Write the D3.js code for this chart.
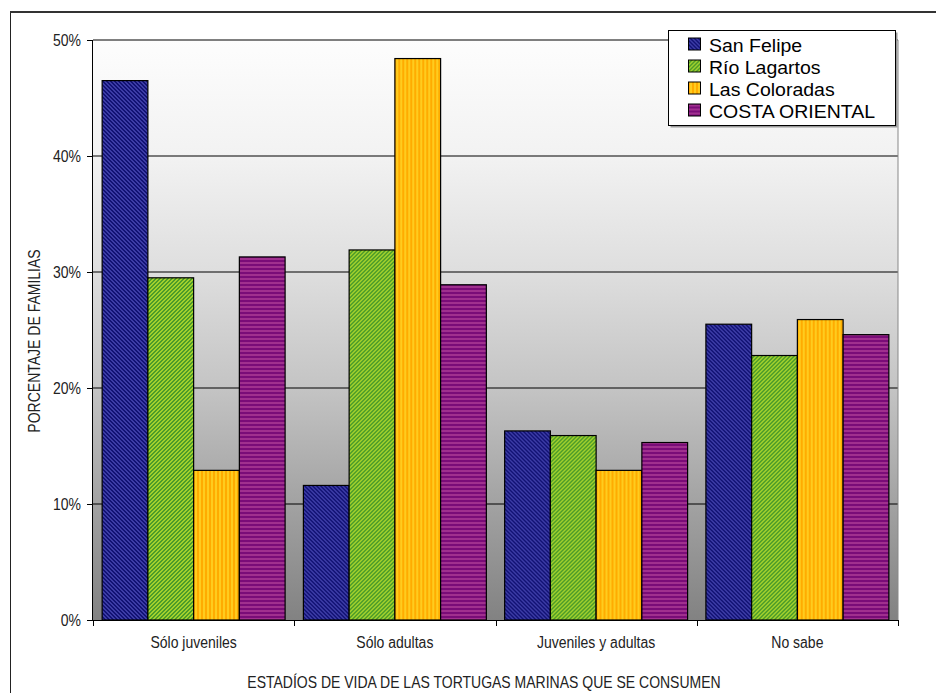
<!DOCTYPE html>
<html>
<head>
<meta charset="utf-8">
<script src="https://cdn.jsdelivr.net/npm/d3@7"></script>
<style>
  html, body { margin: 0; padding: 0; background: #fff; }
  svg { display: block; font-family: "Liberation Sans", Arial, sans-serif; }
</style>
</head>
<body>
<svg id="chart" width="936" height="693"></svg>
<script>
// Life stages of sea turtles consumed, share of families by locality
const categories = ["Sólo juveniles", "Sólo adultas", "Juveniles y adultas", "No sabe"];
const seriesNames = ["San Felipe", "Río Lagartos", "Las Coloradas", "COSTA ORIENTAL"];
const sanFelipe     = [46.5, 11.6, 16.3, 25.5];
const rioLagartos   = [29.5, 31.9, 15.9, 22.8];
const lasColoradas  = [12.9, 48.4, 12.9, 25.9];
const costaOriental = [31.3, 28.9, 15.3, 24.6];
const yTicks = [0, 10, 20, 30, 40, 50];
const yTitle = "PORCENTAJE DE FAMILIAS";
const xTitle = "ESTADÍOS DE VIDA DE LAS TORTUGAS MARINAS QUE SE CONSUMEN";

const seriesValues = [sanFelipe, rioLagartos, lasColoradas, costaOriental];

// pixel hatch fills: [dark, light, rule(x,y) -> true for dark pixel]
const hatches = [
  { id: "h0", dark: "#121274", light: "#3c3ca6", on: (x, y) => ((x - y + 8) % 4) < 2 },
  { id: "h1", dark: "#4c9c2a", light: "#a2d02c", on: (x, y) => ((x + y) % 4) < 2 },
  { id: "h2", dark: "#ffac00", light: "#ffcc1e", on: (x, y) => (x % 4) < 2 },
  { id: "h3", dark: "#7a0c78", light: "#a0308e", on: (x, y) => (y % 4) < 2 }
];

// tall, narrow lettering: draw at a larger size, then squeeze to the base width
function tallText(sel, baseSize, stretch) {
  sel.attr("font-size", baseSize * stretch).each(function () {
    const len = this.getComputedTextLength();
    if (len > 0) {
      d3.select(this).attr("textLength", len / stretch).attr("lengthAdjust", "spacingAndGlyphs");
    }
  });
}

const svg = d3.select("#chart");
const defs = svg.append("defs");

hatches.forEach(h => {
  const p = defs.append("pattern")
    .attr("id", h.id).attr("patternUnits", "userSpaceOnUse")
    .attr("width", 4).attr("height", 4);
  p.append("rect").attr("width", 4).attr("height", 4).attr("fill", h.light);
  for (let y = 0; y < 4; y++) {
    for (let x = 0; x < 4; x++) {
      if (h.on(x, y)) {
        p.append("rect").attr("x", x).attr("y", y).attr("width", 1).attr("height", 1)
          .attr("fill", h.dark).attr("shape-rendering", "crispEdges");
      }
    }
  }
});

const bg = defs.append("linearGradient").attr("id", "plotBg")
  .attr("x1", 0).attr("y1", 0).attr("x2", 0).attr("y2", 1);
[[0, "#fdfdfd"], [0.2, "#f2f2f2"], [0.4, "#dedede"], [0.6, "#c4c4c4"], [0.8, "#a2a2a2"], [1, "#828282"]]
  .forEach(([o, c]) => bg.append("stop").attr("offset", o).attr("stop-color", c));

// outer frame
svg.append("rect").attr("x", 10.5).attr("y", 12).attr("width", 960).attr("height", 720)
  .attr("fill", "none").attr("stroke", "#222").attr("stroke-width", 1);
svg.append("line").attr("x1", 10).attr("x2", 936).attr("y1", 12).attr("y2", 12)
  .attr("stroke", "#333").attr("stroke-width", 2);

const plot = { left: 93, right: 898, top: 40, bottom: 620 };

const y = d3.scaleLinear().domain([0, 50]).range([plot.bottom, plot.top]);
const x0 = d3.scaleBand().domain(categories).range([plot.left, plot.right]).padding(0);
const x1 = d3.scaleBand().domain(seriesNames).range([0, x0.bandwidth()])
  .paddingInner(0).paddingOuter(0.2);

// plot background
svg.append("rect")
  .attr("x", plot.left).attr("y", plot.top)
  .attr("width", plot.right - plot.left).attr("height", plot.bottom - plot.top)
  .attr("fill", "url(#plotBg)");

// gridlines
svg.append("g").selectAll("line").data(yTicks.filter(t => t > 0)).join("line")
  .attr("x1", plot.left).attr("x2", plot.right)
  .attr("y1", d => y(d)).attr("y2", d => y(d))
  .attr("stroke", "#000").attr("stroke-width", 1);

// right edge of plot area
svg.append("line").attr("x1", plot.right).attr("x2", plot.right)
  .attr("y1", plot.top).attr("y2", plot.bottom).attr("stroke", "#888").attr("stroke-width", 1);

// bars
const groups = svg.append("g").selectAll("g").data(categories).join("g")
  .attr("transform", d => `translate(${x0(d)},0)`);
groups.selectAll("rect")
  .data((c, ci) => seriesNames.map((s, si) => ({ s, si, v: seriesValues[si][ci] })))
  .join("rect")
  .attr("x", d => x1(d.s))
  .attr("width", x1.bandwidth())
  .attr("y", d => y(d.v))
  .attr("height", d => y(0) - y(d.v))
  .attr("fill", d => `url(#${hatches[d.si].id})`)
  .attr("stroke", "#000").attr("stroke-width", 1.2);

// y axis
const yAxis = d3.axisLeft(y).tickValues(yTicks).tickFormat(d => d + "%").tickSize(6).tickPadding(6);
const gy = svg.append("g").attr("transform", `translate(${plot.left},0)`).call(yAxis);
gy.select(".domain").attr("stroke", "#000").attr("d", `M-0.5,${plot.top}V${plot.bottom}`);
gy.selectAll(".tick line").attr("stroke", "#000");
gy.selectAll(".tick text").attr("fill", "#222")
  .attr("font-family", "Liberation Sans, Arial, sans-serif").call(tallText, 14, 1.16);

// x axis: ticks sit on category boundaries
const xAxis = d3.axisBottom(x0).tickSize(0).tickPadding(16);
const gx = svg.append("g").attr("transform", `translate(0,${plot.bottom})`).call(xAxis);
gx.select(".domain").attr("stroke", "#000").attr("d", `M${plot.left},0.5H${plot.right}`);
gx.selectAll(".tick text").attr("fill", "#222")
  .attr("font-family", "Liberation Sans, Arial, sans-serif").call(tallText, 14, 1.16);
const bounds = categories.map(c => x0(c)).concat([plot.right]);
svg.append("g").selectAll("line").data(bounds).join("line")
  .attr("x1", d => Math.round(d) + 0.5).attr("x2", d => Math.round(d) + 0.5)
  .attr("y1", plot.bottom).attr("y2", plot.bottom + 6)
  .attr("stroke", "#000");

// axis titles
svg.append("text")
  .attr("transform", `translate(40,${(plot.top + plot.bottom) / 2 + 11}) rotate(-90)`)
  .attr("text-anchor", "middle").attr("fill", "#222")
  .text(yTitle).call(tallText, 14, 1.16);
svg.append("text")
  .attr("x", 484).attr("y", 688)
  .attr("text-anchor", "middle").attr("fill", "#222")
  .text(xTitle).call(tallText, 14, 1.16);

// legend
const lg = { x: 668, y: 30, w: 227, h: 95 };
svg.append("rect").attr("x", lg.x + 2.5).attr("y", lg.y + 2.5).attr("width", lg.w).attr("height", lg.h)
  .attr("fill", "#9a9a9a");
svg.append("rect").attr("x", lg.x + 0.5).attr("y", lg.y + 0.5).attr("width", lg.w).attr("height", lg.h)
  .attr("fill", "#fff").attr("stroke", "#000").attr("stroke-width", 1);
const items = svg.append("g").selectAll("g").data(seriesNames).join("g")
  .attr("transform", (d, i) => `translate(${lg.x},${lg.y + 14.5 + i * 22})`);
items.append("rect").attr("x", 20.5).attr("y", -6.5).attr("width", 12).attr("height", 12)
  .attr("fill", (d, i) => `url(#${hatches[i].id})`).attr("stroke", "#000");
items.append("text").attr("x", 41).attr("y", 7)
  .attr("fill", "#000").text(d => d).call(tallText, 19.5, 0.95);
</script>
</body>
</html>
